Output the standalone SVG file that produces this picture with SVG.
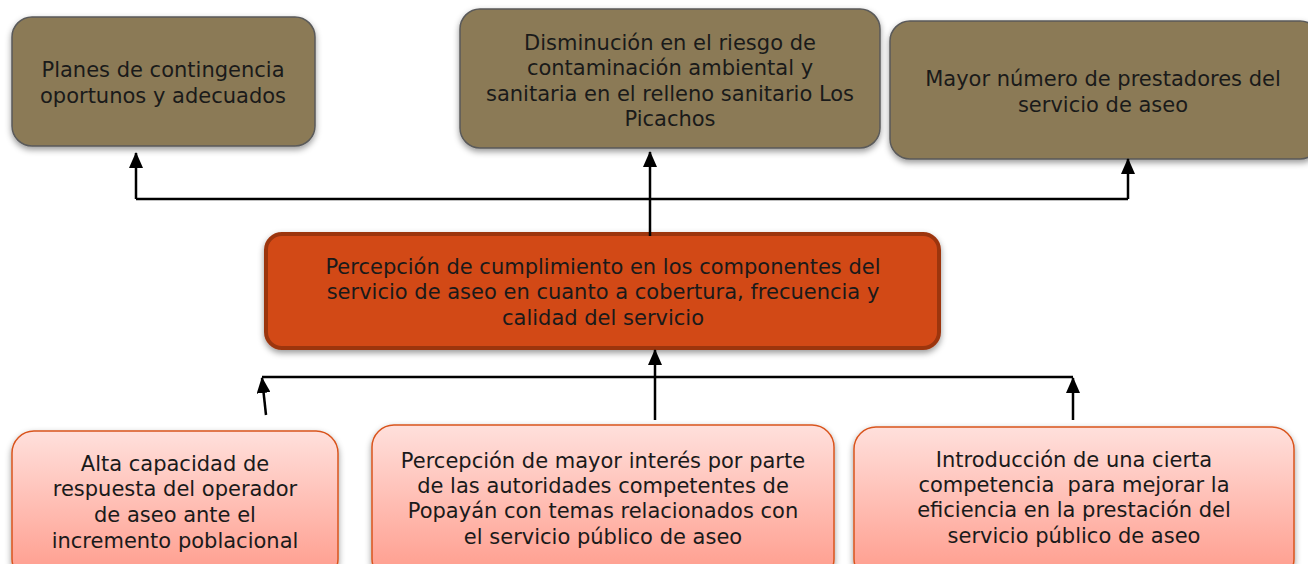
<svg xmlns="http://www.w3.org/2000/svg" width="1308" height="564" viewBox="0 0 1308 564">
<defs>
<style>
.top{fill:#8B7A57;stroke:#5A5A5A;stroke-width:1.5}
.mid{fill:#D24A18;stroke:#9C3510;stroke-width:4}
.bot{fill:url(#g);stroke:#D9541E;stroke-width:1.5}
text{font-family:"DejaVu Sans",sans-serif;font-size:21px;fill:#1a1a1a;text-anchor:middle}
.c{stroke:#000;stroke-width:2.5;fill:none}
</style>
<linearGradient id="g" x1="0" y1="0" x2="0" y2="1">
<stop offset="0" stop-color="#FFE0DC"/>
<stop offset="1" stop-color="#FF9A8A"/>
</linearGradient>
<filter id="sh" x="-10%" y="-10%" width="120%" height="130%">
<feDropShadow dx="0" dy="3" stdDeviation="3" flood-color="#000" flood-opacity="0.4"/>
</filter>
<marker id="ar" markerWidth="16" markerHeight="14" refX="15" refY="7" orient="auto" markerUnits="userSpaceOnUse" viewBox="0 0 16 14">
<path d="M0,0 L16,7 L0,14 Z" fill="#000"/>
</marker>
</defs>
<g id="n1"><rect class="top" filter="url(#sh)" x="12" y="17" width="303" height="129" rx="20"/>
<text x="163" y="77">Planes de contingencia</text><text x="163" y="103">oportunos y adecuados</text></g>
<g id="n2"><rect class="top" filter="url(#sh)" x="460" y="9" width="420" height="139" rx="20"/>
<text x="670" y="50">Disminución en el riesgo de</text><text x="670" y="75">contaminación ambiental y</text><text x="670" y="101">sanitaria en el relleno sanitario Los</text><text x="670" y="126">Picachos</text></g>
<g id="n3"><rect class="top" filter="url(#sh)" x="890" y="21" width="430" height="138" rx="20"/>
<text x="1103" y="86">Mayor número de prestadores del</text><text x="1103" y="112">servicio de aseo</text></g>
<g id="n4"><rect class="mid" filter="url(#sh)" x="266" y="234" width="673" height="114" rx="16"/>
<text x="603" y="274">Percepción de cumplimiento en los componentes del</text><text x="603" y="299">servicio de aseo en cuanto a cobertura, frecuencia y</text><text x="603" y="325">calidad del servicio</text></g>
<g id="n5"><rect class="bot" filter="url(#sh)" x="12" y="431" width="326" height="150" rx="22"/>
<text x="175" y="471">Alta capacidad de</text><text x="175" y="496">respuesta del operador</text><text x="175" y="522">de aseo ante el</text><text x="175" y="548">incremento poblacional</text></g>
<g id="n6"><rect class="bot" filter="url(#sh)" x="372" y="425" width="462" height="156" rx="22"/>
<text x="603" y="468">Percepción de mayor interés por parte</text><text x="603" y="493">de las autoridades competentes de</text><text x="603" y="518">Popayán con temas relacionados con</text><text x="603" y="544">el servicio público de aseo</text></g>
<g id="n7"><rect class="bot" filter="url(#sh)" x="854" y="427" width="440" height="154" rx="22"/>
<text x="1074" y="467">Introducción de una cierta</text><text x="1074" y="492" xml:space="preserve">competencia  para mejorar la</text><text x="1074" y="517">eficiencia en la prestación del</text><text x="1074" y="543">servicio público de aseo</text></g>
<g id="connectors">
<path class="c" d="M136,199 H1128"/>
<path class="c" d="M136,199 V153" marker-end="url(#ar)"/>
<path class="c" d="M650,236 V152" marker-end="url(#ar)"/>
<path class="c" d="M1128,199 V159" marker-end="url(#ar)"/>
<path class="c" d="M262,377 H1073"/>
<path class="c" d="M655,420 V350" marker-end="url(#ar)"/>
<path class="c" d="M266,415 L262,378" marker-end="url(#ar)"/>
<path class="c" d="M1073,420 V378" marker-end="url(#ar)"/>
</g>
</svg>
